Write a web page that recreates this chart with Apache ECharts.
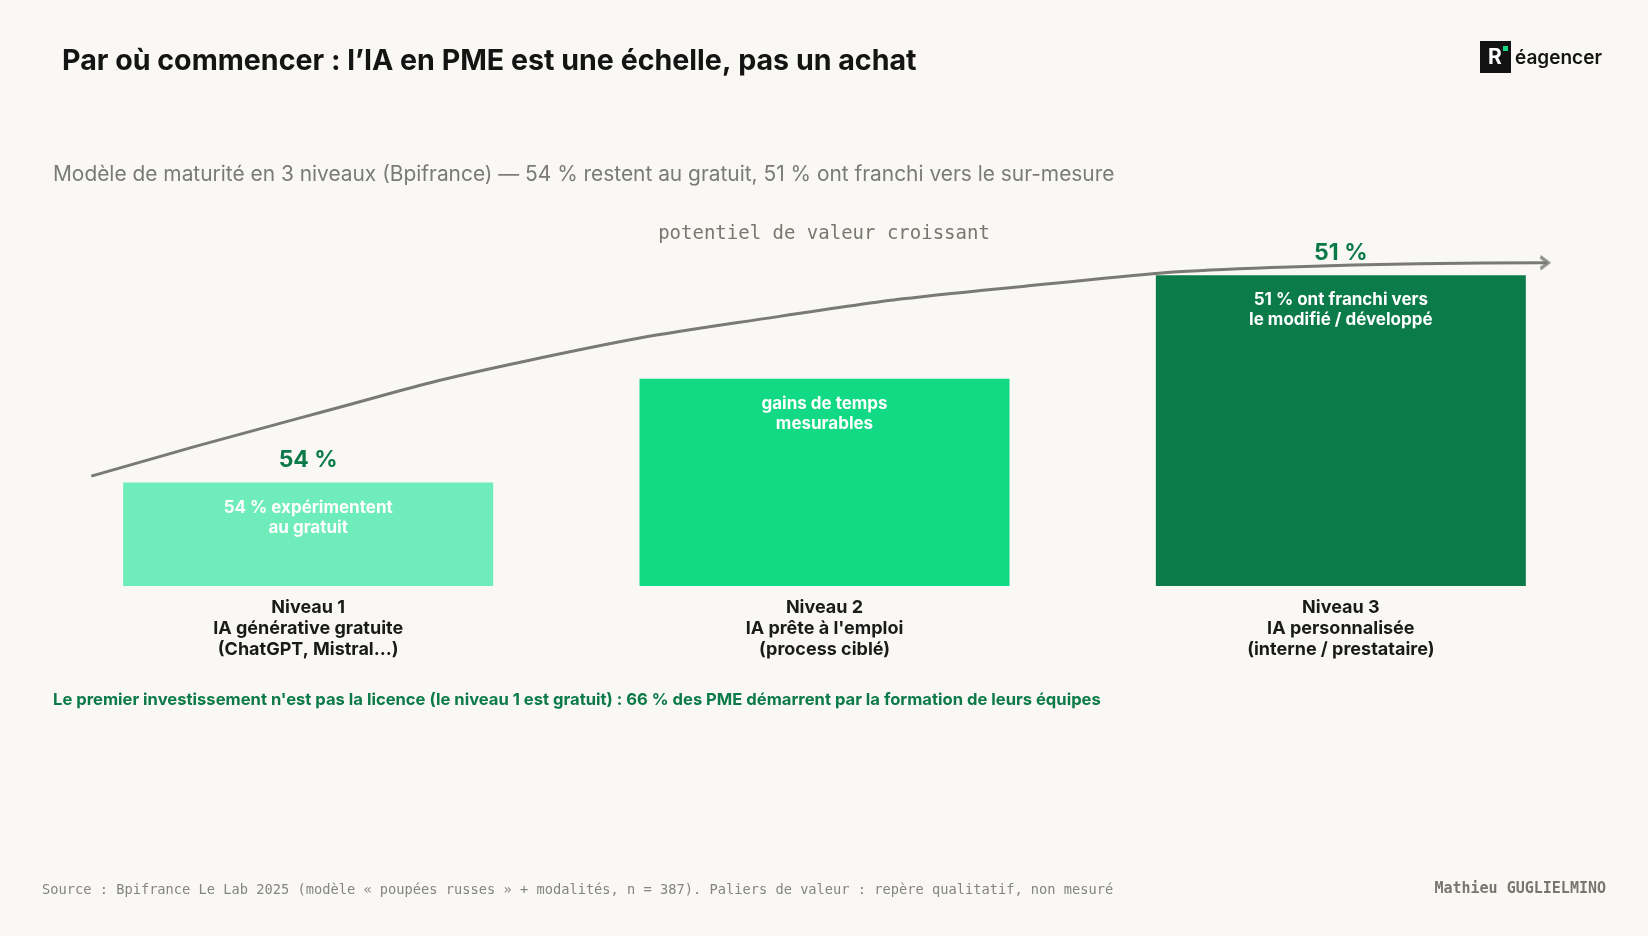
<!DOCTYPE html>
<html><head><meta charset="utf-8">
<script src="https://cdn.jsdelivr.net/npm/echarts@6/dist/echarts.min.js"></script>
<style>html,body{margin:0;padding:0;background:#f9f8f4;}#c{width:1648px;height:936px;}</style>
</head><body><div id="c"></div>
<script>
// ---- data ----
const categories = ["Niveau 1\nIA générative gratuite\n(ChatGPT, Mistral…)", "Niveau 2\nIA prête à l'emploi\n(process ciblé)", "Niveau 3\nIA personnalisée\n(interne / prestataire)"];
const levelValues = [1, 2, 3];            // qualitative value steps
const insideLabels = ["54 % expérimentent\nau gratuit", "gains de temps\nmesurables", "51 % ont franchi vers\nle modifié / développé"];
const topLabels = ["54 %", "", "51 %"];
const barColors = ["#6eecb9", "#12d983", "#0b7b4a"];
// value-potential curve (x in category units 0..3, y in level units)
const curveX = [0.08, 0.49, 0.92, 1.41, 1.90, 2.40, 2.90];
const curveY = [1.06, 1.63, 2.17, 2.60, 2.90, 3.08, 3.12];

const FONT = "Inter, 'Noto Sans', sans-serif";
const MONO = "'DejaVu Sans Mono', 'Liberation Mono', monospace";
const chart = echarts.init(document.getElementById('c'));
const curveData = curveX.map((x, i) => [x, curveY[i]]);
const last = curveData[curveData.length - 1];

chart.setOption({
  backgroundColor: '#f9f8f4',
  animation: false,
  title: [
    {text: "Par où commencer : l’IA en PME est une échelle, pas un achat", left: 57, top: 42,
     textStyle: {fontFamily: FONT, fontSize: 28.6, fontWeight: 700, color: '#141414'}},
    {text: "Modèle de maturité en 3 niveaux (Bpifrance) — 54 % restent au gratuit, 51 % ont franchi vers le sur-mesure", left: 48, top: 159,
     textStyle: {fontFamily: FONT, fontSize: 20.9, fontWeight: 400, color: '#7a7a76'}},
    {text: "potentiel de valeur croissant", left: 'center', top: 220,
     textStyle: {fontFamily: MONO, fontSize: 19, fontWeight: 400, color: '#77776f'}},
    {text: "Le premier investissement n'est pas la licence (le niveau 1 est gratuit) : 66 % des PME démarrent par la formation de leurs équipes", left: 48, top: 686,
     textStyle: {fontFamily: FONT, fontSize: 16.6, fontWeight: 700, color: '#0b7a48'}},
    {text: "Source : Bpifrance Le Lab 2025 (modèle « poupées russes » + modalités, n = 387). Paliers de valeur : repère qualitatif, non mesuré", left: 37, top: 878,
     textStyle: {fontFamily: MONO, fontSize: 13.7, fontWeight: 400, color: '#85857f'}},
    {text: "Mathieu GUGLIELMINO", right: 37, top: 877,
     textStyle: {fontFamily: MONO, fontSize: 15, fontWeight: 700, color: '#77776f'}}
  ],
  graphic: [
    {type: 'rect', shape: {x: 1480, y: 41, width: 31, height: 32}, style: {fill: '#121212'}},
    {type: 'rect', shape: {x: 1503, y: 46, width: 5, height: 5}, style: {fill: '#14d982'}},
    {type: 'text', x: 1488, y: 47, style: {text: 'R', fill: '#ffffff', font: "700 21px Inter, sans-serif"}},
    {type: 'text', x: 1515, y: 49, style: {text: 'éagencer', fill: '#141414', font: "600 19px Inter, sans-serif"}}
  ],
  grid: {left: 50, right: 49, top: 223.4, bottom: 350},
  xAxis: [
    {type: 'category', data: categories, axisLine: {show: false}, axisTick: {show: false},
     axisLabel: {margin: 11, interval: 0, fontFamily: FONT, fontSize: 18, fontWeight: 700, color: '#1a1a1a', lineHeight: 21, align: 'center'}},
    {type: 'value', min: 0, max: 3, show: false}
  ],
  yAxis: {type: 'value', min: 0, max: 3.5, show: false, splitLine: {show: false}},
  series: [
    {type: 'bar', xAxisIndex: 0, barWidth: 370,
     data: levelValues.map((v, i) => ({value: v, itemStyle: {color: barColors[i]},
       label: {formatter: insideLabels[i]}})),
     label: {show: true, position: 'insideTop', distance: 15, color: '#ffffff', fontFamily: FONT, fontSize: 17, fontWeight: 700, lineHeight: 20, align: 'center'}},
    {type: 'bar', xAxisIndex: 0, barWidth: 370, barGap: '-100%',
     data: levelValues.map((v, i) => ({value: v, label: {formatter: topLabels[i]}})),
     itemStyle: {color: 'rgba(0,0,0,0)'},
     label: {show: true, position: 'top', distance: 11, color: '#0b7a48', fontFamily: FONT, fontSize: 23, fontWeight: 700}},
    {type: 'line', xAxisIndex: 1, data: curveData, smooth: 0.5, showSymbol: false, clip: false,
     lineStyle: {color: '#7a7a75', width: 3}, z: 5},
    {type: 'scatter', xAxisIndex: 1, data: [last], clip: false,
     symbol: 'path://M0,0 L10,10 L0,20', symbolSize: [8, 12], symbolOffset: [-3, 0],
     itemStyle: {color: 'none', borderColor: '#7a7a75', borderWidth: 3}, z: 6}
  ]
});
</script></body></html>
